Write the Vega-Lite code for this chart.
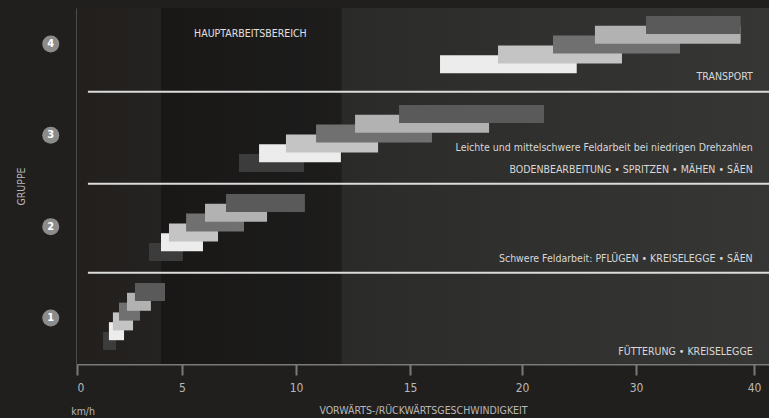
{
  "$schema": "https://vega.github.io/schema/vega-lite/v6.json",
  "width": 692,
  "height": 356,
  "autosize": {"type": "none"},
  "padding": {"left": 77, "top": 8, "right": 0, "bottom": 54},
  "background": "#211f1d",
  "config": {
    "view": {"stroke": null},
    "font": "DejaVu Sans Condensed, sans-serif",
    "text": {"font": "DejaVu Sans Condensed, sans-serif"}
  },
  "datasets": {
    "gears": [
      {"group": 1, "gear": 1, "from": 1.24, "to": 1.86},
      {"group": 1, "gear": 2, "from": 1.52, "to": 2.24},
      {"group": 1, "gear": 3, "from": 1.71, "to": 2.67},
      {"group": 1, "gear": 4, "from": 2.0, "to": 3.0},
      {"group": 1, "gear": 5, "from": 2.38, "to": 3.52},
      {"group": 1, "gear": 6, "from": 2.76, "to": 4.19},
      {"group": 2, "gear": 1, "from": 3.43, "to": 5.04},
      {"group": 2, "gear": 2, "from": 4.0, "to": 5.92},
      {"group": 2, "gear": 3, "from": 4.38, "to": 6.58},
      {"group": 2, "gear": 4, "from": 5.18, "to": 7.72},
      {"group": 2, "gear": 5, "from": 6.01, "to": 8.73},
      {"group": 2, "gear": 6, "from": 6.93, "to": 10.39},
      {"group": 3, "gear": 1, "from": 7.5, "to": 10.35},
      {"group": 3, "gear": 2, "from": 8.38, "to": 11.97},
      {"group": 3, "gear": 3, "from": 9.56, "to": 13.6},
      {"group": 3, "gear": 4, "from": 10.88, "to": 15.98},
      {"group": 3, "gear": 5, "from": 12.59, "to": 18.53},
      {"group": 3, "gear": 6, "from": 14.52, "to": 21.93},
      {"group": 4, "gear": 2, "from": 16.34, "to": 24.8},
      {"group": 4, "gear": 3, "from": 18.93, "to": 28.77},
      {"group": 4, "gear": 4, "from": 22.72, "to": 33.73},
      {"group": 4, "gear": 5, "from": 26.4, "to": 38.87},
      {"group": 4, "gear": 6, "from": 30.85, "to": 38.87}
    ],
    "groups": [
      {"group": 1, "label": "1", "pos": -1.25},
      {"group": 2, "label": "2", "pos": -1.25},
      {"group": 3, "label": "3", "pos": -1.25},
      {"group": 4, "label": "4", "pos": -1.25}
    ],
    "separators": [
      {"y": 1.496, "start": 0.52, "end": 41.27},
      {"y": 2.47, "start": 0.52, "end": 41.27},
      {"y": 3.478, "start": 0.52, "end": 41.27}
    ],
    "notes": [
      {"text": "TRANSPORT", "x": 39.89, "y": 3.638},
      {"text": "Leichte und mittelschwere Feldarbeit bei niedrigen Drehzahlen", "x": 39.89, "y": 2.861},
      {"text": "BODENBEARBEITUNG • SPRITZEN • MÄHEN • SÄEN", "x": 39.89, "y": 2.62},
      {"text": "Schwere Feldarbeit: PFLÜGEN • KREISELEGGE • SÄEN", "x": 39.89, "y": 1.646},
      {"text": "FÜTTERUNG • KREISELEGGE", "x": 39.89, "y": 0.631}
    ],
    "zone": [
      {"start": 4, "end": 12, "label": "HAUPTARBEITSBEREICH", "mid": 8, "labelY": 4.109}
    ],
    "unit": [
      {"text": "km/h", "x": 0.29, "y": -0.026}
    ]
  },
  "resolve": {"scale": {"y": "independent"}, "axis": {"y": "independent"}},
  "layer": [
    {
      "layer": [
        {
          "data": {"values": [{}]},
          "mark": {
            "type": "rect",
            "color": {
              "gradient": "linear", "x1": 0, "y1": 0, "x2": 1, "y2": 0,
              "stops": [
                {"offset": 0, "color": "#221f1d"},
                {"offset": 0.45, "color": "#2c2c2b"},
                {"offset": 1, "color": "#363635"}
              ]
            }
          },
          "encoding": {}
        },
        {
          "data": {"name": "zone"},
          "mark": {"type": "rect", "color": "#000000", "opacity": 0.3},
          "encoding": {
            "x": {
              "field": "start", "type": "quantitative",
              "scale": {"type": "linear", "domain": [0, 5, 10, 15, 20, 30, 40, 41.27], "range": [0, 105, 219, 333, 445, 559, 677, 692], "zero": false, "nice": false},
              "axis": {
                "values": [0, 5, 10, 15, 20, 30, 40],
                "title": "VORWÄRTS-/RÜCKWÄRTSGESCHWINDIGKEIT",
                "grid": false,
                "domainColor": "#7a7a7a", "domainWidth": 2,
                "tickColor": "#7a7a7a", "tickWidth": 2, "tickSize": 11,
                "labelColor": "#b8b8b8", "labelFontSize": 12, "labelPadding": 7,
                "labelFont": "DejaVu Sans Condensed, sans-serif",
                "titleColor": "#b8b8b8", "titleFontSize": 10.5, "titleFontWeight": "normal",
                "titleFont": "DejaVu Sans Condensed, sans-serif",
                "titlePadding": 12
              }
            },
            "x2": {"field": "end"}
          }
        },
        {
          "data": {"name": "zone"},
          "mark": {"type": "text", "color": "#e0e0e0", "fontSize": 10.5, "align": "center", "baseline": "middle"},
          "encoding": {
            "x": {"field": "mid", "type": "quantitative"},
            "y": {"field": "labelY", "type": "quantitative"},
            "text": {"field": "label"}
          }
        },
        {
          "data": {"name": "separators"},
          "mark": {"type": "rule", "color": "#dcdcdc", "strokeWidth": 2},
          "encoding": {
            "x": {"field": "start", "type": "quantitative"},
            "x2": {"field": "end"},
            "y": {
              "field": "y", "type": "quantitative",
              "scale": {"domain": [0.496, 4.394], "zero": false, "nice": false},
              "axis": {
                "title": "GRUPPE", "labels": false, "ticks": false, "grid": false,
                "domainColor": "#7a7a7a", "domainWidth": 2,
                "titleColor": "#b8b8b8", "titleFontSize": 10.5, "titleFontWeight": "normal",
                "titleFont": "DejaVu Sans Condensed, sans-serif",
                "titlePadding": 51
              }
            }
          }
        },
        {
          "data": {"name": "groups"},
          "mark": {"type": "point", "shape": "circle", "filled": true, "size": 290, "color": "#8c8c8c", "opacity": 1, "clip": false},
          "encoding": {
            "x": {"field": "pos", "type": "quantitative"},
            "y": {"field": "group", "type": "quantitative"}
          }
        },
        {
          "data": {"name": "groups"},
          "mark": {"type": "text", "color": "#ffffff", "fontSize": 11, "fontWeight": "bold", "align": "center", "baseline": "middle", "clip": false},
          "encoding": {
            "x": {"field": "pos", "type": "quantitative"},
            "y": {"field": "group", "type": "quantitative"},
            "text": {"field": "label"}
          }
        },
        {
          "data": {"name": "notes"},
          "mark": {"type": "text", "color": "#d8d8d8", "fontSize": 10.5, "align": "right", "baseline": "middle"},
          "encoding": {
            "x": {"field": "x", "type": "quantitative"},
            "y": {"field": "y", "type": "quantitative"},
            "text": {"field": "text"}
          }
        },
        {
          "data": {"name": "unit"},
          "mark": {"type": "text", "color": "#b8b8b8", "fontSize": 10.5, "align": "center", "baseline": "middle", "clip": false},
          "encoding": {
            "x": {"field": "x", "type": "quantitative"},
            "y": {"field": "y", "type": "quantitative"},
            "text": {"field": "text"}
          }
        }
      ]
    },
    {
      "data": {"name": "gears"},
      "mark": {"type": "bar", "height": 18},
      "encoding": {
        "x": {"field": "from", "type": "quantitative"},
        "x2": {"field": "to"},
        "y": {
          "field": "group", "type": "ordinal",
          "scale": {"domain": [4, 3, 2, 1], "paddingInner": 0, "paddingOuter": 0},
          "axis": null
        },
        "yOffset": {
          "field": "gear", "type": "ordinal",
          "scale": {"type": "point", "domain": [1, 2, 3, 4, 5, 6], "range": [66, 17], "padding": 0}
        },
        "color": {
          "field": "gear", "type": "ordinal",
          "scale": {"domain": [1, 2, 3, 4, 5, 6], "range": ["#3c3c3c", "#ececec", "#c4c4c4", "#707070", "#b2b2b2", "#5a5a5a"]},
          "legend": null
        },
        "order": {"field": "gear", "type": "quantitative"}
      }
    }
  ]
}
